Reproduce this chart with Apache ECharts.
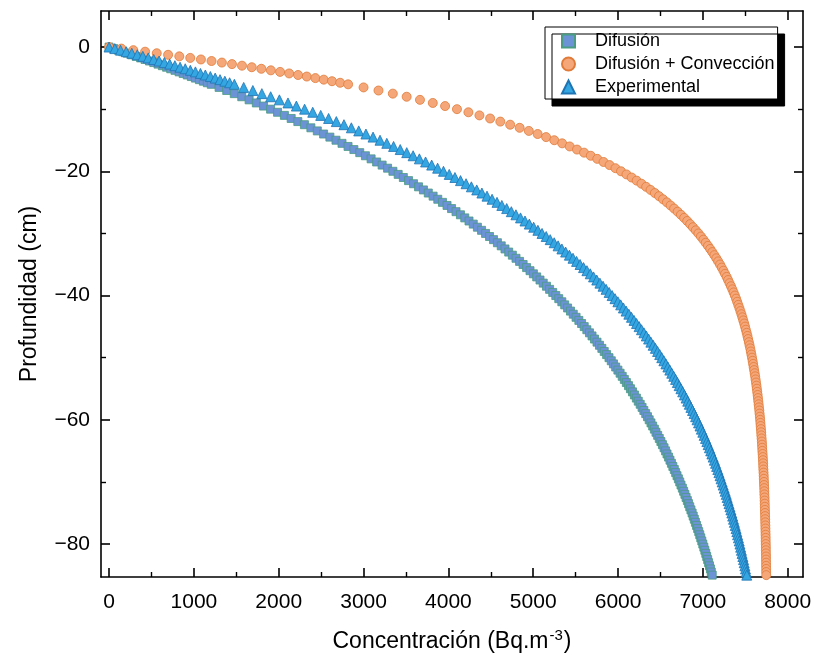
<!DOCTYPE html>
<html>
<head>
<meta charset="utf-8">
<title>Perfil de concentración</title>
<script src="https://cdn.jsdelivr.net/npm/echarts@6/dist/echarts.min.js"></script>
<style>
  html, body { margin: 0; padding: 0; background: #ffffff; }
  #chart { width: 818px; height: 668px; }
</style>
</head>
<body>
<div id="chart"></div>
<script>
// Profundidad (cm), compartida por las tres series
const depth = [
  0, -0.25, -0.5, -0.75, -1, -1.25, -1.5, -1.75, -2, -2.25, -2.5, -2.75, -3,
  -3.25, -3.5, -3.75, -4, -4.25, -4.5, -4.75, -5, -5.25, -5.5, -5.75, -6,
  -6.5, -7, -7.5, -8, -8.5, -9, -9.5, -10,
  -10.5, -11, -11.5, -12, -12.5, -13, -13.5, -14, -14.5, -15,
  -15.5, -16, -16.5, -17, -17.5, -18, -18.5, -19, -19.5, -20,
  -20.5, -21, -21.5, -22, -22.5, -23, -23.5, -24, -24.5, -25,
  -25.5, -26, -26.5, -27, -27.5, -28, -28.5, -29, -29.5, -30,
  -30.5, -31, -31.5, -32, -32.5, -33, -33.5, -34, -34.5, -35,
  -35.5, -36, -36.5, -37, -37.5, -38, -38.5, -39, -39.5, -40,
  -40.5, -41, -41.5, -42, -42.5, -43, -43.5, -44, -44.5, -45,
  -45.5, -46, -46.5, -47, -47.5, -48, -48.5, -49, -49.5, -50,
  -50.5, -51, -51.5, -52, -52.5, -53, -53.5, -54, -54.5, -55,
  -55.5, -56, -56.5, -57, -57.5, -58, -58.5, -59, -59.5, -60,
  -60.5, -61, -61.5, -62, -62.5, -63, -63.5, -64, -64.5, -65,
  -65.5, -66, -66.5, -67, -67.5, -68, -68.5, -69, -69.5, -70,
  -70.5, -71, -71.5, -72, -72.5, -73, -73.5, -74, -74.5, -75,
  -75.5, -76, -76.5, -77, -77.5, -78, -78.5, -79, -79.5, -80,
  -80.5, -81, -81.5, -82, -82.5, -83, -83.5, -84, -84.5, -85,
  -85.5
];

// Concentración (Bq.m-3) — Difusión
const difusion = [
  0, 54, 108, 162, 215, 268, 320, 372, 424, 476, 527, 577, 628,
  678, 727, 777, 826, 874, 922, 970, 1018, 1065, 1112, 1159, 1205,
  1297, 1387, 1476, 1564, 1651, 1736, 1821, 1904,
  1986, 2067, 2147, 2225, 2303, 2379, 2455, 2529, 2603, 2675,
  2746, 2817, 2886, 2955, 3022, 3089, 3154, 3219, 3283, 3346,
  3408, 3469, 3530, 3589, 3648, 3706, 3763, 3820, 3875, 3930,
  3984, 4037, 4090, 4142, 4193, 4243, 4293, 4342, 4391, 4438,
  4485, 4532, 4578, 4623, 4667, 4711, 4754, 4797, 4839, 4881,
  4922, 4962, 5002, 5041, 5080, 5118, 5156, 5193, 5230, 5266,
  5301, 5337, 5371, 5405, 5439, 5472, 5505, 5538, 5570, 5601,
  5632, 5663, 5693, 5722, 5752, 5781, 5809, 5837, 5865, 5893,
  5920, 5946, 5972, 5998, 6024, 6049, 6074, 6098, 6123, 6146,
  6170, 6193, 6216, 6238, 6261, 6283, 6304, 6326, 6347, 6367,
  6388, 6408, 6428, 6447, 6467, 6486, 6505, 6523, 6542, 6560,
  6577, 6595, 6612, 6629, 6646, 6663, 6679, 6695, 6711, 6727,
  6742, 6758, 6773, 6788, 6802, 6817, 6831, 6845, 6859, 6873,
  6886, 6899, 6912, 6925, 6938, 6951, 6963, 6975, 6987, 6999,
  7011, 7023, 7034, 7045, 7056, 7067, 7078, 7089, 7099, 7110,
  7120
];

// Concentración (Bq.m-3) — Difusión + Convección
const conveccion = [
  0, 145, 286, 425, 562, 696, 828, 957, 1083, 1208, 1330, 1449, 1567,
  1682, 1795, 1907, 2016, 2123, 2228, 2331, 2432, 2531, 2628, 2724, 2818,
  3000, 3176, 3345, 3508, 3665, 3816, 3961, 4101,
  4236, 4366, 4492, 4612, 4728, 4840, 4948, 5052, 5152, 5248,
  5341, 5430, 5516, 5599, 5678, 5755, 5829, 5900, 5969, 6035,
  6099, 6160, 6219, 6276, 6331, 6383, 6434, 6483, 6530, 6576,
  6619, 6661, 6702, 6741, 6779, 6815, 6850, 6883, 6916, 6947,
  6977, 7006, 7033, 7060, 7086, 7111, 7135, 7158, 7180, 7202,
  7222, 7242, 7261, 7280, 7297, 7314, 7331, 7347, 7362, 7377,
  7391, 7404, 7417, 7430, 7442, 7454, 7465, 7476, 7487, 7497,
  7506, 7516, 7525, 7533, 7542, 7550, 7558, 7565, 7572, 7579,
  7586, 7592, 7598, 7604, 7610, 7616, 7621, 7626, 7631, 7636,
  7640, 7645, 7649, 7653, 7657, 7661, 7665, 7668, 7672, 7675,
  7678, 7681, 7684, 7687, 7689, 7692, 7695, 7697, 7699, 7701,
  7704, 7706, 7708, 7710, 7711, 7713, 7715, 7717, 7718, 7720,
  7721, 7723, 7724, 7725, 7727, 7728, 7729, 7730, 7731, 7732,
  7733, 7734, 7735, 7736, 7737, 7738, 7739, 7740, 7740, 7741,
  7742, 7742, 7743, 7744, 7744, 7745, 7745, 7746, 7746, 7747,
  7747
];

// Concentración (Bq.m-3) — Experimental
const experimental = [
  0, 68, 135, 202, 268, 333, 398, 462, 526, 590, 652, 715, 776,
  837, 898, 958, 1018, 1077, 1135, 1194, 1251, 1308, 1365, 1421, 1477,
  1587, 1695, 1801, 1905, 2008, 2109, 2208, 2305,
  2401, 2495, 2588, 2679, 2769, 2856, 2943, 3028, 3112, 3194,
  3274, 3354, 3432, 3509, 3584, 3658, 3731, 3803, 3873, 3942,
  4010, 4077, 4143, 4208, 4271, 4334, 4395, 4455, 4515, 4573,
  4630, 4687, 4742, 4796, 4850, 4903, 4954, 5005, 5055, 5104,
  5153, 5200, 5247, 5293, 5338, 5382, 5426, 5469, 5511, 5552,
  5593, 5633, 5672, 5711, 5749, 5786, 5823, 5859, 5895, 5930,
  5964, 5998, 6031, 6063, 6095, 6127, 6158, 6188, 6218, 6248,
  6276, 6305, 6333, 6360, 6387, 6414, 6440, 6466, 6491, 6515,
  6540, 6564, 6587, 6610, 6633, 6656, 6678, 6699, 6720, 6741,
  6762, 6782, 6802, 6821, 6840, 6859, 6878, 6896, 6914, 6931,
  6949, 6966, 6982, 6999, 7015, 7031, 7047, 7062, 7077, 7092,
  7106, 7121, 7135, 7149, 7162, 7176, 7189, 7202, 7214, 7227,
  7239, 7251, 7263, 7275, 7286, 7297, 7308, 7319, 7330, 7341,
  7351, 7361, 7371, 7381, 7391, 7400, 7409, 7419, 7428, 7437,
  7445, 7454, 7462, 7471, 7479, 7487, 7495, 7502, 7510, 7517,
  7525
];

// Marcas de los ejes
const xTicks = [0, 1000, 2000, 3000, 4000, 5000, 6000, 7000, 8000];
const xMinorTicks = [500, 1500, 2500, 3500, 4500, 5500, 6500, 7500];
const yTicks = [0, -20, -40, -60, -80];
const yMinorTicks = [-10, -30, -50, -70];

const X_MIN = -95, X_MAX = 8180;
const Y_MIN = -85.3, Y_MAX = 5.8;

const FONT = '"Liberation Sans", Arial, Helvetica, sans-serif';
const black = '#000000';

function pairs(values) {
  return values.map((c, i) => [c, depth[i]]);
}

function tickAxis(extra) {
  return Object.assign({
    type: 'value',
    splitLine: { show: false },
    axisLabel: { show: false },
    axisLine: { show: false, onZero: false },
    axisPointer: { show: false }
  }, extra);
}

function lineStyle(w) {
  return { color: black, width: w };
}

const xAxes = [
  tickAxis({
    position: 'bottom', min: X_MIN, max: X_MAX,
    axisLine: { show: true, onZero: false, lineStyle: lineStyle(1.6) },
    axisTick: { show: true, inside: true, length: 9, customValues: xTicks, lineStyle: lineStyle(1.6) },
    axisLabel: {
      show: true, customValues: xTicks, fontSize: 21, color: black, fontFamily: FONT, margin: 15,
      formatter: v => String(v)
    },
    name: '{a|Concentración (Bq.m}{s|-3}{a|)}',
    nameLocation: 'middle',
    nameGap: 51,
    nameTextStyle: {
      color: black,
      rich: {
        a: { fontSize: 23, fontFamily: FONT, color: black },
        s: { fontSize: 15, fontFamily: FONT, color: black, padding: [0, 1, 12, 1] }
      }
    }
  }),
  tickAxis({
    position: 'bottom', min: X_MIN, max: X_MAX,
    axisTick: { show: true, inside: true, length: 5, customValues: xMinorTicks, lineStyle: lineStyle(1.4) }
  }),
  tickAxis({
    position: 'top', min: X_MIN, max: X_MAX,
    axisLine: { show: true, onZero: false, lineStyle: lineStyle(1.6) },
    axisTick: { show: true, inside: true, length: 9, customValues: xTicks, lineStyle: lineStyle(1.6) }
  }),
  tickAxis({
    position: 'top', min: X_MIN, max: X_MAX,
    axisTick: { show: true, inside: true, length: 5, customValues: xMinorTicks, lineStyle: lineStyle(1.4) }
  })
];

const yAxes = [
  tickAxis({
    position: 'left', min: Y_MIN, max: Y_MAX,
    axisLine: { show: true, onZero: false, lineStyle: lineStyle(1.6) },
    axisTick: { show: true, inside: true, length: 9, customValues: yTicks, lineStyle: lineStyle(1.6) },
    axisLabel: {
      show: true, customValues: yTicks, fontSize: 21, color: black, fontFamily: FONT, margin: 11,
      formatter: v => String(v).replace('-', '\u2212')
    },
    name: 'Profundidad (cm)',
    nameLocation: 'middle',
    nameGap: 60,
    nameTextStyle: { fontSize: 23, fontFamily: FONT, color: black }
  }),
  tickAxis({
    position: 'left', min: Y_MIN, max: Y_MAX,
    axisTick: { show: true, inside: true, length: 5, customValues: yMinorTicks, lineStyle: lineStyle(1.4) }
  }),
  tickAxis({
    position: 'right', min: Y_MIN, max: Y_MAX,
    axisLine: { show: true, onZero: false, lineStyle: lineStyle(1.6) },
    axisTick: { show: true, inside: true, length: 9, customValues: yTicks, lineStyle: lineStyle(1.6) }
  }),
  tickAxis({
    position: 'right', min: Y_MIN, max: Y_MAX,
    axisTick: { show: true, inside: true, length: 5, customValues: yMinorTicks, lineStyle: lineStyle(1.4) }
  })
];

const chart = echarts.init(document.getElementById('chart'), null, { renderer: 'canvas' });

chart.setOption({
  backgroundColor: '#ffffff',
  animation: false,
  textStyle: { fontFamily: FONT },
  grid: { left: 101, right: 15, top: 11, bottom: 91, containLabel: false },
  xAxis: xAxes,
  yAxis: yAxes,
  legend: {
    orient: 'vertical',
    left: 545,
    top: 27,
    padding: [5, 3, 3, 16],
    itemGap: 5,
    itemWidth: 13,
    itemHeight: 13,
    backgroundColor: '#ffffff',
    borderColor: black,
    borderWidth: 1,
    borderRadius: 0,
    shadowColor: black,
    shadowBlur: 0,
    shadowOffsetX: 7,
    shadowOffsetY: 7,
    selectedMode: false,
    textStyle: { fontSize: 18, fontFamily: FONT, color: black, padding: [0, 0, 0, 15] },
    data: [
      { name: 'Difusión', icon: 'rect' },
      { name: 'Difusión + Convección', icon: 'circle' },
      { name: 'Experimental', icon: 'triangle' }
    ]
  },
  series: [
    {
      name: 'Difusión',
      type: 'scatter',
      data: pairs(difusion),
      symbol: 'rect',
      symbolSize: 8,
      itemStyle: { color: '#6b93d6', borderColor: '#4a9c82', borderWidth: 0.8, opacity: 1 }
    },
    {
      name: 'Difusión + Convección',
      type: 'scatter',
      data: pairs(conveccion),
      symbol: 'circle',
      symbolSize: 9,
      itemStyle: { color: '#f5a77a', borderColor: '#e07b39', borderWidth: 0.8, opacity: 1 }
    },
    {
      name: 'Experimental',
      type: 'scatter',
      data: pairs(experimental),
      symbol: 'triangle',
      symbolSize: 10,
      itemStyle: { color: '#34a6e2', borderColor: '#1f74b4', borderWidth: 0.8, opacity: 1 }
    }
  ]
});
</script>
</body>
</html>
